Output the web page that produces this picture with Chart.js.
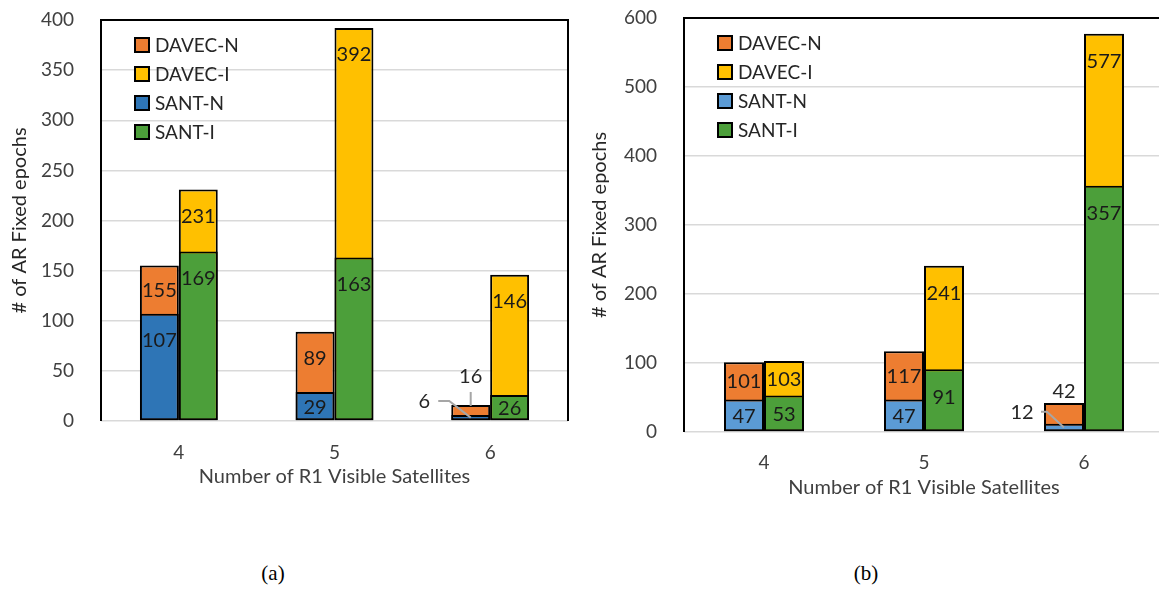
<!DOCTYPE html>
<html>
<head>
<meta charset="utf-8">
<script src="https://cdn.jsdelivr.net/npm/chart.js@4.4.1/dist/chart.umd.min.js"></script>
<style>
html,body{margin:0;padding:0;background:#fff;overflow:hidden;width:1159px;height:590px;}
#wrap{position:relative;width:1159px;height:590px;overflow:hidden;background:#fff;}
.cv{position:absolute;top:0;}
.cap{position:absolute;font-family:"Liberation Serif","DejaVu Serif",serif;font-size:21px;color:#000;transform:translateX(-50%);white-space:nowrap;}
</style>
</head>
<body>
<div id="wrap">
  <div class="cv" style="left:0;width:580px;height:500px"><canvas id="ca" width="580" height="500"></canvas></div>
  <div class="cv" style="left:580px;width:600px;height:500px"><canvas id="cb" width="600" height="500"></canvas></div>
  <div class="cap" style="left:273px;top:561px">(a)</div>
  <div class="cap" style="left:866px;top:561px">(b)</div>
</div>
<script>
// ---------- data ----------
const categories = ['4', '5', '6'];
const xTitle = 'Number of R1 Visible Satellites';
const yTitle = '# of AR Fixed epochs';
const legendOrder = ['DAVEC-N', 'DAVEC-I', 'SANT-N', 'SANT-I'];

// panel (a)
const santN_a  = [107, 29, 6];
const santI_a  = [169, 163, 26];
const davecN_a = [155, 89, 16];
const davecI_a = [231, 392, 146];
const yTicks_a = [0, 50, 100, 150, 200, 250, 300, 350, 400];

// panel (b)
const santN_b  = [47, 47, 12];
const santI_b  = [53, 91, 357];
const davecN_b = [101, 117, 42];
const davecI_b = [103, 241, 577];
const yTicks_b = [0, 100, 200, 300, 400, 500, 600];

// ---------- styles ----------
Chart.defaults.font.family = 'Lato';
const COL = {
  davecN: '#ED7D31',
  davecI: '#FFC000',
  santN_a: '#2E75B6',
  santN_b: '#5B9BD5',
  santI: '#4C9F3A'
};

const framePlugin = {
  id: 'frame',
  afterDraw(chart) {
    const {ctx, chartArea: a} = chart;
    ctx.save();
    ctx.strokeStyle = '#000';
    ctx.lineWidth = 2;
    ctx.beginPath();
    ctx.moveTo(a.left, a.bottom);
    ctx.lineTo(a.left, a.top);
    ctx.lineTo(a.right, a.top);
    ctx.lineTo(a.right, a.bottom);
    ctx.stroke();
    ctx.restore();
  }
};

const legendPlugin = {
  id: 'inLegend',
  afterDraw(chart, args, o) {
    const {ctx, chartArea: a} = chart;
    ctx.save();
    ctx.font = o.fontSize + 'px Lato';
    ctx.textBaseline = 'middle';
    ctx.textAlign = 'left';
    legendOrder.forEach((name, i) => {
      const ds = chart.data.datasets.find(d => d.label === name);
      const cy = a.top + o.top + i * o.step;
      const bx = a.left + o.left;
      ctx.fillStyle = ds.backgroundColor;
      ctx.fillRect(bx, cy - 7, 14, 14);
      ctx.strokeStyle = '#000';
      ctx.lineWidth = 2;
      ctx.strokeRect(bx, cy - 7, 14, 14);
      ctx.fillStyle = '#262626';
      ctx.fillText(name, bx + 20, cy + 1);
    });
    ctx.restore();
  }
};

const labelPlugin = {
  id: 'barLabels',
  afterDatasetsDraw(chart, args, o) {
    const ctx = chart.ctx;
    ctx.save();
    ctx.font = '20px Lato';
    ctx.textAlign = 'center';
    ctx.textBaseline = 'middle';
    chart.data.datasets.forEach((ds, di) => {
      const meta = chart.getDatasetMeta(di);
      meta.data.forEach((bar, i) => {
        const p = bar.getProps(['x', 'y', 'base', 'width'], true);
        let bottom = p.base;
        if (ds.coveredBy !== undefined) {
          const cb = chart.getDatasetMeta(ds.coveredBy).data[i].getProps(['y'], true);
          bottom = Math.min(bottom, cb.y);
        }
        const h = bottom - p.y;
        const txt = String(ds.data[i]);
        if (h >= o.minH) {
          ctx.fillStyle = '#1a1a1a';
          ctx.fillText(txt, p.x, p.y + Math.min(o.inset, h / 2) + 1);
        } else if (ds.coveredBy !== undefined) {
          const ty = p.y - o.aboveGap;
          ctx.fillStyle = '#262626';
          ctx.fillText(txt, p.x, ty);
          if (o.aboveLeader) {
            ctx.strokeStyle = '#A6A6A6';
            ctx.lineWidth = 2;
            ctx.beginPath();
            ctx.moveTo(p.x, ty + 15);
            ctx.lineTo(p.x, p.y + 1);
            ctx.stroke();
          }
        } else {
          const tx = p.x - p.width / 2 - o.leftGap;
          const ty = p.y - o.leftRise;
          ctx.fillStyle = '#262626';
          ctx.fillText(txt, tx, ty);
          ctx.strokeStyle = '#A6A6A6';
          ctx.lineWidth = 2;
          ctx.beginPath();
          ctx.moveTo(tx + o.leadStart, ty - 1);
          ctx.lineTo(tx + o.leadKnee, ty - 1);
          ctx.lineTo(p.x, (p.y + p.base) / 2);
          ctx.stroke();
        }
      });
    });
    ctx.restore();
  }
};

function makeChart(id, d, s) {
  const common = {
    borderColor: '#000', borderWidth: 2, borderSkipped: false,
    categoryPercentage: 0.5, barPercentage: 1.0
  };
  return new Chart(document.getElementById(id), {
    type: 'bar',
    data: {
      labels: categories,
      datasets: [
        Object.assign({label: 'SANT-N', data: d.santN, stack: 'N', backgroundColor: s.santNColor}, common),
        Object.assign({label: 'SANT-I', data: d.santI, stack: 'I', backgroundColor: COL.santI}, common),
        Object.assign({label: 'DAVEC-N', data: d.davecN, stack: 'N', backgroundColor: COL.davecN, coveredBy: 0}, common),
        Object.assign({label: 'DAVEC-I', data: d.davecI, stack: 'I', backgroundColor: COL.davecI, coveredBy: 1}, common)
      ]
    },
    options: {
      responsive: false,
      devicePixelRatio: 1,
      animation: false,
      layout: {padding: {left: 0, right: s.padR, top: s.padT, bottom: 0}},
      plugins: {
        legend: {display: false},
        tooltip: {enabled: false},
        inLegend: {left: 34, top: 25, step: 29, fontSize: 19},
        barLabels: s.labels
      },
      scales: {
        x: {
          stacked: true,
          grid: {display: false, drawTicks: false},
          border: {display: false},
          ticks: {font: {size: 19}, color: '#404040', padding: s.xTickPad},
          title: {display: true, text: xTitle, font: {size: 20}, color: '#404040', padding: {top: 0, bottom: s.xTitlePad}},
          afterFit(sc) { sc.height = s.xAxisH; sc.paddingLeft = 0; sc.paddingRight = 0; }
        },
        y: {
          stacked: false,
          min: 0,
          max: d.yTicks[d.yTicks.length - 1],
          afterBuildTicks(sc) { sc.ticks = d.yTicks.map(v => ({value: v})); },
          grid: {color: '#D9D9D9', lineWidth: 1.5, drawTicks: false},
          border: {display: false},
          ticks: {font: {size: 19}, color: '#404040', padding: 27},
          title: {display: true, text: yTitle, font: {size: 20}, color: '#262626', padding: {top: 8, bottom: 0}},
          afterFit(sc) { sc.width = s.yAxisW; sc.paddingTop = 0; sc.paddingBottom = 0; }
        }
      }
    },
    plugins: [framePlugin, labelPlugin, legendPlugin]
  });
}

makeChart('ca',
  {santN: santN_a, santI: santI_a, davecN: davecN_a, davecI: davecI_a, yTicks: yTicks_a},
  {santNColor: COL.santN_a, padR: 12, padT: 20, yAxisW: 101, xAxisH: 79, xTickPad: 20, xTitlePad: 11,
   labels: {minH: 22, inset: 26, aboveGap: 28, aboveLeader: true, leftGap: 27, leftRise: 13, leadStart: 14, leadKnee: 25}});

makeChart('cb',
  {santN: santN_b, santI: santI_b, davecN: davecN_b, davecI: davecI_b, yTicks: yTicks_b},
  {santNColor: COL.santN_b, padR: 16, padT: 18, yAxisW: 104, xAxisH: 68, xTickPad: 19, xTitlePad: 0,
   labels: {minH: 22, inset: 27, aboveGap: 11, aboveLeader: false, leftGap: 22, leftRise: 11, leadStart: 19, leadKnee: 25}});
</script>
</body>
</html>
